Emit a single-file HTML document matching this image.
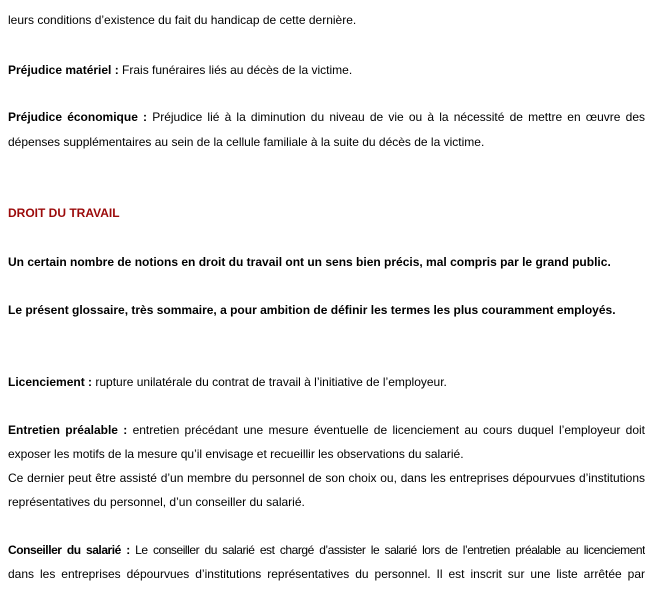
<!DOCTYPE html>
<html><head><meta charset="utf-8"><style>
body{margin:0;width:650px;height:600px;background:#fff;overflow:hidden;font-family:"Liberation Sans",Arial,sans-serif;font-size:12px;color:#000}
.l{position:absolute;left:8px;line-height:24px;height:24px;white-space:nowrap}
.j{width:637px;text-align:justify;text-align-last:justify;white-space:normal;overflow:hidden}
b{font-weight:bold}
.r{color:#9b0a0a;font-weight:bold}
</style></head><body>
<div class="l" style="top:8px">leurs conditions d’existence du fait du handicap de cette dernière.</div>
<div class="l" style="top:58px"><b>Préjudice matériel :</b> Frais funéraires liés au décès de la victime.</div>
<div class="l j" style="top:105px"><b>Préjudice économique :</b> Préjudice lié à la diminution du niveau de vie ou à la nécessité de mettre en œuvre des</div>
<div class="l" style="top:130px">dépenses supplémentaires au sein de la cellule familiale à la suite du décès de la victime.</div>
<div class="l r" style="top:201px">DROIT DU TRAVAIL</div>
<div class="l" style="top:250px"><b>Un certain nombre de notions en droit du travail ont un sens bien précis, mal compris par le grand public.</b></div>
<div class="l" style="top:298px"><b>Le présent glossaire, très sommaire, a pour ambition de définir les termes les plus couramment employés.</b></div>
<div class="l" style="top:370px"><b>Licenciement :</b> rupture unilatérale du contrat de travail à l’initiative de l’employeur.</div>
<div class="l j" style="top:418px"><b>Entretien préalable :</b> entretien précédant une mesure éventuelle de licenciement au cours duquel l’employeur doit</div>
<div class="l" style="top:442px">exposer les motifs de la mesure qu’il envisage et recueillir les observations du salarié.</div>
<div class="l j" style="top:466px">Ce dernier peut être assisté d’un membre du personnel de son choix ou, dans les entreprises dépourvues d’institutions</div>
<div class="l" style="top:490px">représentatives du personnel, d’un conseiller du salarié.</div>
<div class="l j" style="top:538px;letter-spacing:-0.45px;word-spacing:-1px;white-space:nowrap"><b>Conseiller du salarié :</b> Le conseiller du salarié est chargé d’assister le salarié lors de l’entretien préalable au licenciement</div>
<div class="l j" style="top:562px">dans les entreprises dépourvues d’institutions représentatives du personnel. Il est inscrit sur une liste arrêtée par</div>
</body></html>
